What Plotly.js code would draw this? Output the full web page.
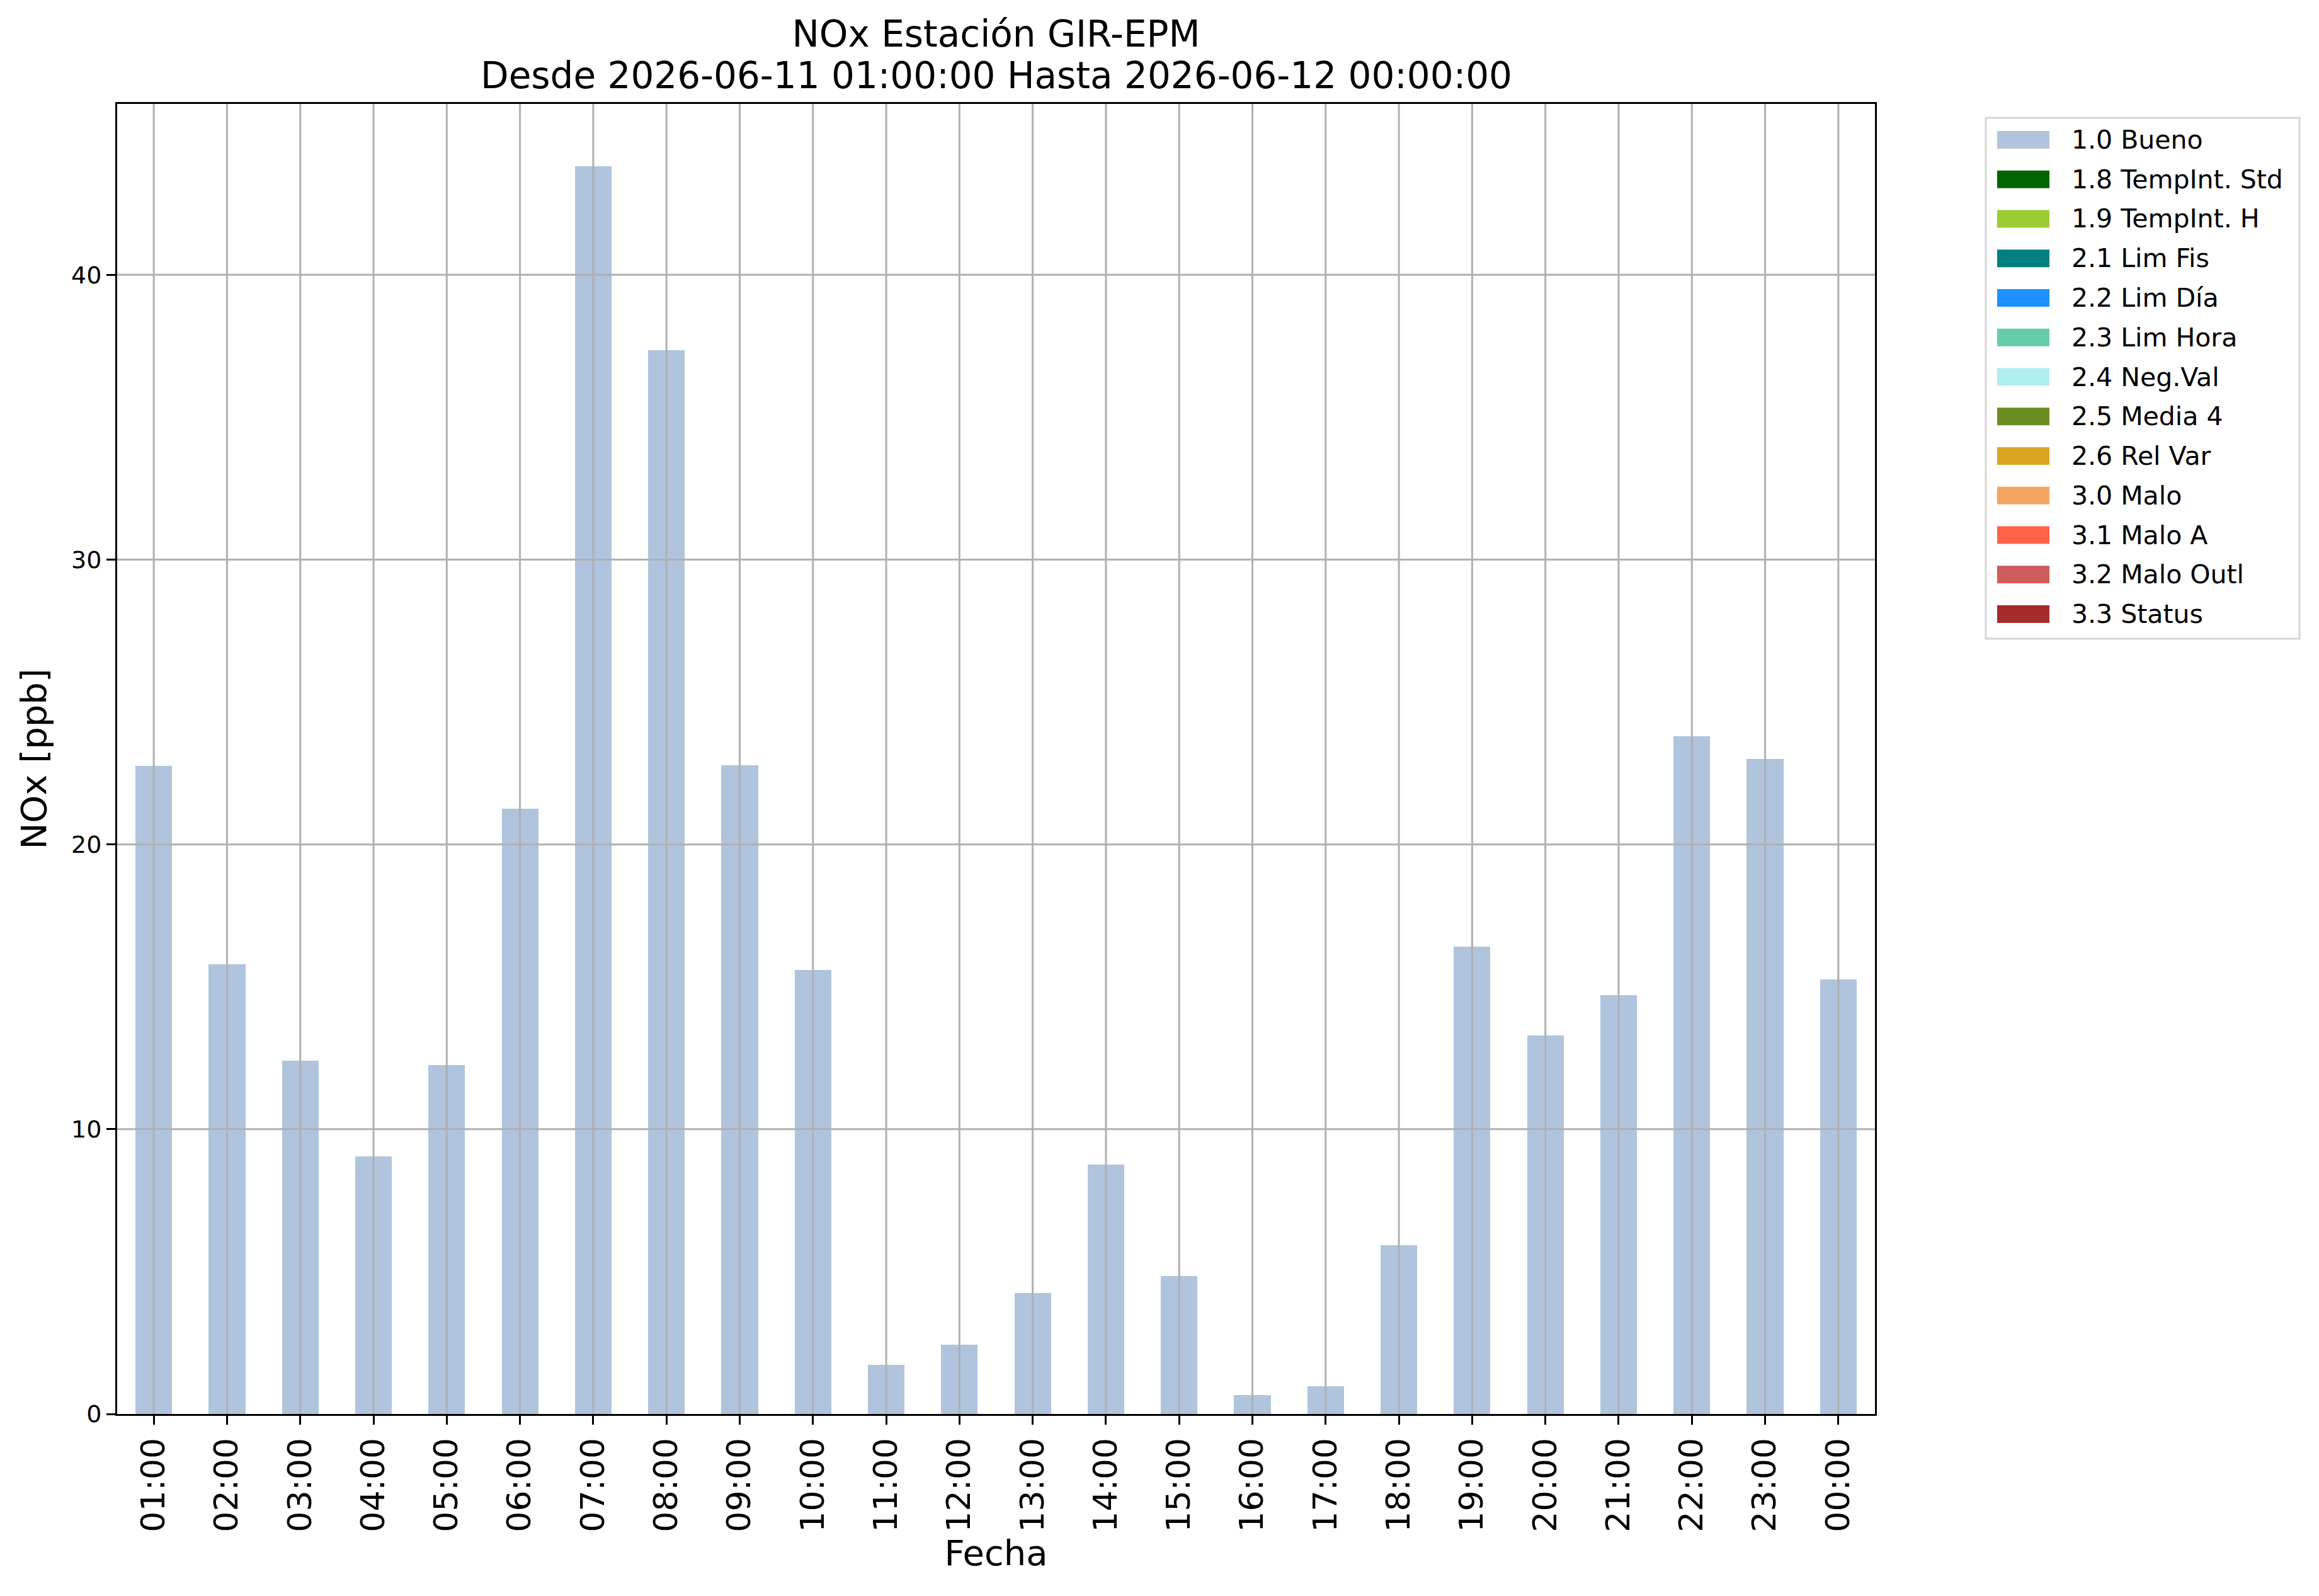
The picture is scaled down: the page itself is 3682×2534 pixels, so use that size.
<!DOCTYPE html>
<html>
<head>
<meta charset="utf-8">
<script src="https://cdn.plot.ly/plotly-3.0.1.min.js"></script>
<style>
  html, body { margin: 0; padding: 0; background: #ffffff; }
  #myChart { width: 3682px; height: 2534px; }
</style>
</head>
<body>
<div id="myChart"></div>
<script>
// hourly NOx values, 2026-06-11 01:00 .. 2026-06-12 00:00
var hours = ["01:00", "02:00", "03:00", "04:00", "05:00", "06:00", "07:00", "08:00",
             "09:00", "10:00", "11:00", "12:00", "13:00", "14:00", "15:00", "16:00",
             "17:00", "18:00", "19:00", "20:00", "21:00", "22:00", "23:00", "00:00"]
var nox_bueno = [22.75, 15.8, 12.4, 9.04, 12.25, 21.25, 43.8, 37.35,
                 22.78, 15.6, 1.72, 2.43, 4.24, 8.75, 4.84, 0.66,
                 0.97, 5.92, 16.4, 13.3, 14.7, 23.8, 23.0, 15.25]
var y_ticks = [0, 10, 20, 30, 40]

var flag_labels = ["1.0 Bueno", "1.8 TempInt. Std", "1.9 TempInt. H", "2.1 Lim Fis",
                   "2.2 Lim Día", "2.3 Lim Hora", "2.4 Neg.Val", "2.5 Media 4",
                   "2.6 Rel Var", "3.0 Malo", "3.1 Malo A", "3.2 Malo Outl", "3.3 Status"]
var flag_colours = ["#B0C4DE", "#006400", "#9ACD32", "#008080",
                    "#1E90FF", "#66CDAA", "#AFEEEE", "#6B8E23",
                    "#DAA520", "#F4A460", "#FF6347", "#CD5C5C", "#A52A2A"]

var title_line1 = 'NOx Estación GIR-EPM'
var title_line2 = 'Desde 2026-06-11 01:00:00 Hasta 2026-06-12 00:00:00'

var W = 3682, H = 2534
var M = {l: 186, r: 705, t: 165, b: 289}
var plotW = W - M.l - M.r
var plotH = H - M.t - M.b

// pixel -> paper helpers (legend box, 2nd title line)
function px(x) { return (x - M.l) / plotW }
function py(y) { return (H - M.b - y) / plotH }

var font = 'DejaVu Sans, sans-serif'
var gridColour = '#b0b0b0'

var data = [{
  x: hours,
  y: nox_bueno,
  type: 'bar',
  width: 0.5,
  marker: { color: flag_colours[0] },
  name: flag_labels[0],
  hoverinfo: 'skip'
}]

var shapes = []
var annotations = []

// grid on top of the bars, like matplotlib draws it here
hours.forEach(function (h) {
  shapes.push({
    type: 'line', xref: 'x', yref: 'paper', x0: h, x1: h, y0: 0, y1: 1,
    line: { color: gridColour, width: 3 }, layer: 'above'
  })
})
y_ticks.slice(1).forEach(function (v) {
  shapes.push({
    type: 'line', xref: 'paper', yref: 'y', x0: 0, x1: 1, y0: v, y1: v,
    line: { color: gridColour, width: 3 }, layer: 'above'
  })
})

// second title line (plotly's <br> spacing is too loose)
annotations.push({
  xref: 'paper', yref: 'paper', x: 0.5, y: py(120),
  xanchor: 'center', yanchor: 'middle', showarrow: false,
  text: title_line2,
  font: { family: font, size: 58, color: '#000000' }
})

// legend frame
shapes.push({
  type: 'rect', xref: 'paper', yref: 'paper',
  x0: px(3153), x1: px(3651), y0: py(1014), y1: py(187),
  line: { color: '#d6d6d6', width: 3 }, fillcolor: '#ffffff', layer: 'above'
})

for (let i = 0; i < flag_labels.length; i++) {
  var cy = 222 + i * 62.75
  shapes.push({
    type: 'rect', xref: 'paper', yref: 'paper',
    x0: px(3171), x1: px(3254), y0: py(cy + 14), y1: py(cy - 14),
    line: { width: 0 }, fillcolor: flag_colours[i], layer: 'above'
  })
  annotations.push({
    xref: 'paper', yref: 'paper', x: px(3287), y: py(cy),
    xanchor: 'left', yanchor: 'middle', showarrow: false,
    text: flag_labels[i],
    font: { family: font, size: 41, color: '#000000' }
  })
}

var layout = {
  width: W,
  height: H,
  paper_bgcolor: '#ffffff',
  plot_bgcolor: '#ffffff',
  font: { family: font, color: '#000000' },
  margin: M,
  showlegend: false,
  bargap: 0,
  title: {
    text: title_line1,
    font: { family: font, size: 58, color: '#000000' },
    x: 0.5, xref: 'paper', xanchor: 'center',
    y: 1 - 54 / H, yref: 'container', yanchor: 'middle'
  },
  xaxis: {
    type: 'category',
    range: [-0.5, hours.length - 0.5],
    showgrid: false,
    zeroline: false,
    showline: true, mirror: true, linecolor: '#000000', linewidth: 3,
    ticks: 'outside', ticklen: 14, tickwidth: 3, tickcolor: '#000000',
    tickangle: -90,
    tickfont: { family: font, size: 52, color: '#000000' },
    title: { text: 'Fecha', font: { family: font, size: 56, color: '#000000' }, standoff: 12 }
  },
  yaxis: {
    range: [0, 46],
    tickvals: y_ticks,
    showgrid: false,
    zeroline: false,
    showline: true, mirror: true, linecolor: '#000000', linewidth: 3,
    ticks: 'outside', ticklen: 14, tickwidth: 3, tickcolor: '#000000',
    tickfont: { family: font, size: 38, color: '#000000' },
    title: { text: 'NOx [ppb]', font: { family: font, size: 56, color: '#000000' }, standoff: 22 }
  },
  shapes: shapes,
  annotations: annotations
}

Plotly.newPlot('myChart', data, layout, { displayModeBar: false, staticPlot: true })
</script>
</body>
</html>
